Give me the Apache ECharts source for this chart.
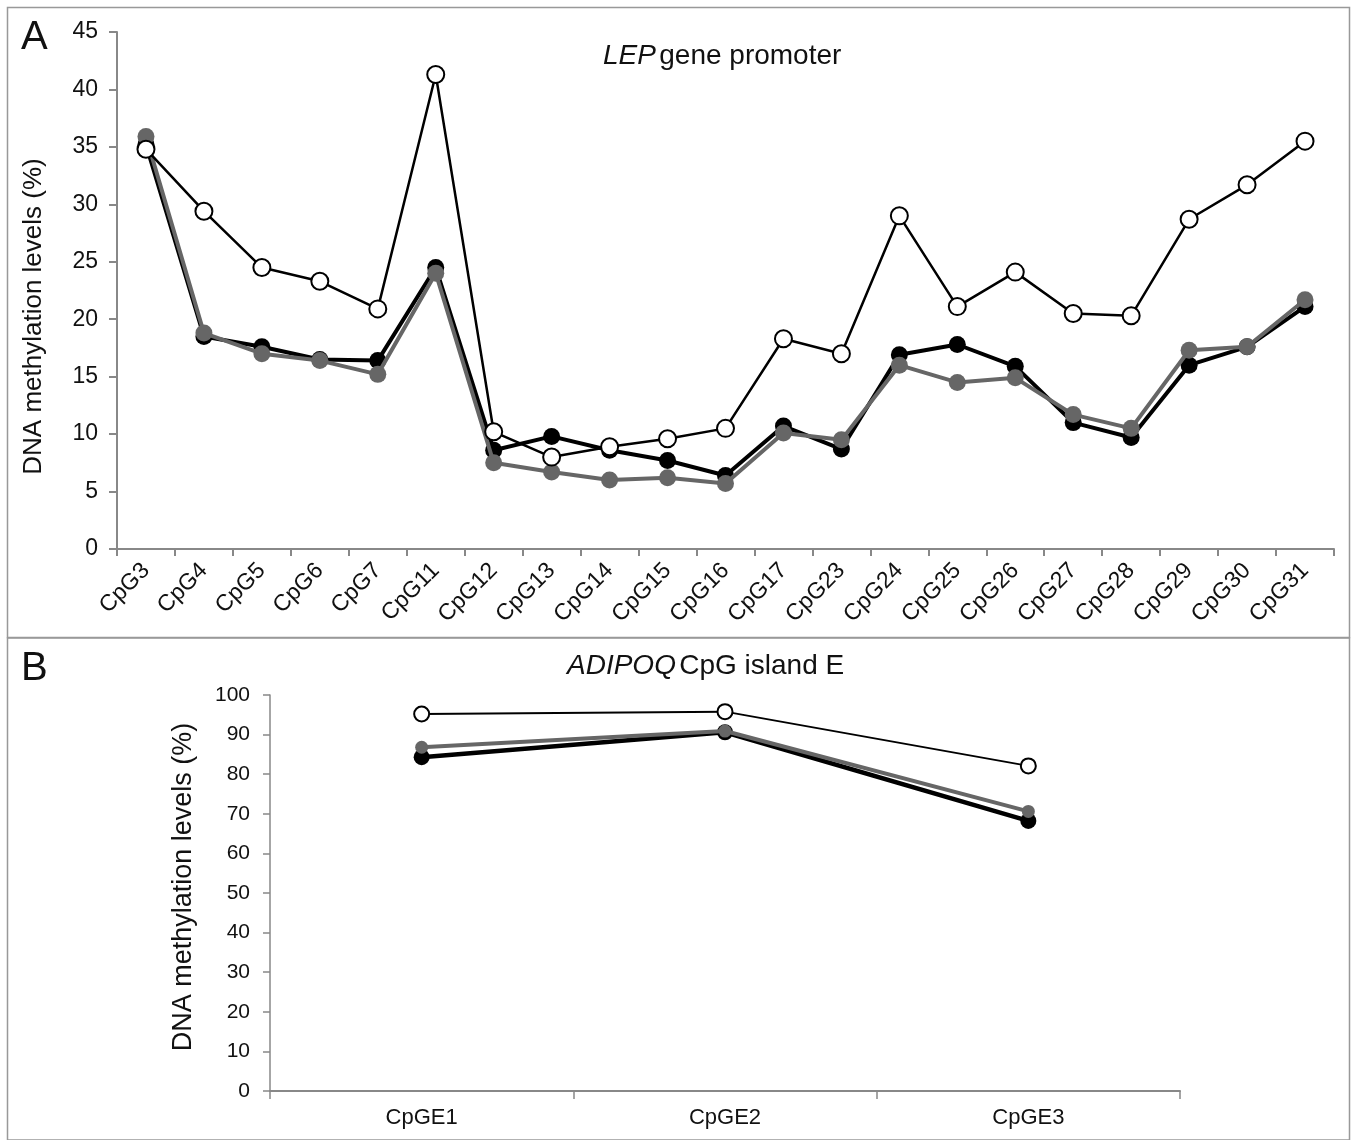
<!DOCTYPE html>
<html><head><meta charset="utf-8">
<script src="https://cdn.jsdelivr.net/npm/echarts@6/dist/echarts.min.js"></script>
<style>html,body{margin:0;padding:0;background:#fff}#c{width:1351px;height:1140px}</style>
</head><body><div id="c"></div>
<script>
// Panel A: LEP gene promoter
const lepCategories = ['CpG3','CpG4','CpG5','CpG6','CpG7','CpG11','CpG12','CpG13','CpG14','CpG15','CpG16','CpG17','CpG23','CpG24','CpG25','CpG26','CpG27','CpG28','CpG29','CpG30','CpG31'];
const lepBlack = [35.2,18.5,17.6,16.5,16.4,24.5,8.6,9.8,8.6,7.7,6.4,10.7,8.7,16.9,17.8,15.9,11.0,9.7,16.0,17.6,21.1];
const lepGray  = [35.9,18.8,17.0,16.4,15.2,24.0,7.5,6.7,6.0,6.2,5.7,10.1,9.5,16.0,14.5,14.9,11.7,10.5,17.3,17.6,21.7];
const lepOpen  = [34.8,29.4,24.5,23.3,20.9,41.3,10.2,8.0,8.9,9.6,10.5,18.3,17.0,29.0,21.1,24.1,20.5,20.3,28.7,31.7,35.5];
const lepTicks = [0,5,10,15,20,25,30,35,40,45];

// Panel B: ADIPOQ CpG island E
const adipoqCategories = ['CpGE1','CpGE2','CpGE3'];
const adipoqBlack = [84.3,90.6,68.2];
const adipoqGray  = [86.8,90.9,70.6];
const adipoqOpen  = [95.2,95.8,82.1];
const adipoqTicks = [0,10,20,30,40,50,60,70,80,90,100];

const FONT = 'Liberation Sans, Arial, Helvetica, sans-serif';
const chart = echarts.init(document.getElementById('c'), null, {renderer:'canvas'});

function mkSeries(xi, data, kind, big){
  const s = {type:'line', xAxisIndex:xi, yAxisIndex:xi, data:data, symbol:'circle', animation:false, z: 2};
  if(kind==='black'){
    s.symbolSize = big?17:16; s.lineStyle={color:'#000',width:big?4:4.5}; s.itemStyle={color:'#000'}; s.z=2;
  } else if(kind==='gray'){
    s.symbolSize = big?17:13; s.lineStyle={color:'#666',width:4}; s.itemStyle={color:'#666'}; s.z=3;
  } else {
    s.symbolSize = big?17:15; s.lineStyle={color:'#000',width:big?2.5:2}; s.itemStyle={color:'#fff',borderColor:'#000',borderWidth:2}; s.z=4;
  }
  s.name = kind;
  return s;
}

const axisLineStyle = {lineStyle:{color:'#888',width:2}};
const titleRich = {i:{fontStyle:'italic',fontSize:28,fontFamily:FONT,fill:'#111'},n:{fontSize:28,fontFamily:FONT,fill:'#111'}};
const option = {
  backgroundColor:'#fff',
  textStyle:{fontFamily:FONT},
  graphic:[
    {type:'rect', shape:{x:7.5,y:7.5,width:1342,height:630}, style:{fill:'none',stroke:'#999',lineWidth:1.5}, silent:true},
    {type:'rect', shape:{x:7.5,y:638,width:1342,height:502}, style:{fill:'none',stroke:'#999',lineWidth:1.5}, silent:true},
    {type:'text', left:21, top:18, style:{text:'A', font:'40px '+FONT, fill:'#111'}},
    {type:'text', left:21, top:649, style:{text:'B', font:'40px '+FONT, fill:'#111'}},
    {type:'text', left:603, top:42, style:{text:'{i|LEP} {n|gene promoter}', rich:titleRich}},
    {type:'text', left:567, top:652, style:{text:'{i|ADIPOQ} {n|CpG island E}', rich:titleRich}}
  ],
  grid:[
    {left:117, right:17, top:32, bottom:591},
    {left:270, right:171, top:695, bottom:49}
  ],
  xAxis:[
    {type:'category', gridIndex:0, data:lepCategories, boundaryGap:true,
     axisLine:axisLineStyle, axisTick:{show:true,length:7,lineStyle:{color:'#888',width:2}},
     axisLabel:{interval:0, rotate:45, fontSize:23, color:'#111', margin:18, fontFamily:FONT}},
    {type:'category', gridIndex:1, data:adipoqCategories, boundaryGap:true,
     axisLine:axisLineStyle, axisTick:{show:true,length:8,lineStyle:{color:'#888',width:1.5}},
     axisLabel:{interval:0, fontSize:22, color:'#111', margin:16, fontFamily:FONT}}
  ],
  yAxis:[
    {type:'value', gridIndex:0, min:lepTicks[0], max:lepTicks[lepTicks.length-1], interval:5,
     name:'DNA methylation levels (%)', nameLocation:'middle', nameGap:70, nameRotate:90,
     nameTextStyle:{fontSize:26, color:'#111', fontFamily:FONT, padding:[0,52,0,0]},
     axisLine:{show:true,lineStyle:{color:'#888',width:2}}, axisTick:{show:true,length:8,lineStyle:{color:'#888',width:2}},
     splitLine:{show:false}, axisLabel:{fontSize:23,color:'#111',margin:19,fontFamily:FONT}},
    {type:'value', gridIndex:1, min:adipoqTicks[0], max:adipoqTicks[adipoqTicks.length-1], interval:10,
     name:'DNA methylation levels (%)', nameLocation:'middle', nameGap:73, nameRotate:90,
     nameTextStyle:{fontSize:27, color:'#111', fontFamily:FONT, padding:[0,0,0,12]},
     axisLine:{show:true,lineStyle:{color:'#888',width:1.5}}, axisTick:{show:true,length:7,lineStyle:{color:'#888',width:1.5}},
     splitLine:{show:false}, axisLabel:{fontSize:21,color:'#111',margin:20,fontFamily:FONT}}
  ],
  series:[
    mkSeries(0, lepBlack, 'black', true),
    mkSeries(0, lepGray, 'gray', true),
    mkSeries(0, lepOpen, 'open', true),
    mkSeries(1, adipoqBlack, 'black', false),
    mkSeries(1, adipoqGray, 'gray', false),
    mkSeries(1, adipoqOpen, 'open', false)
  ]
};
chart.setOption(option);
</script></body></html>
